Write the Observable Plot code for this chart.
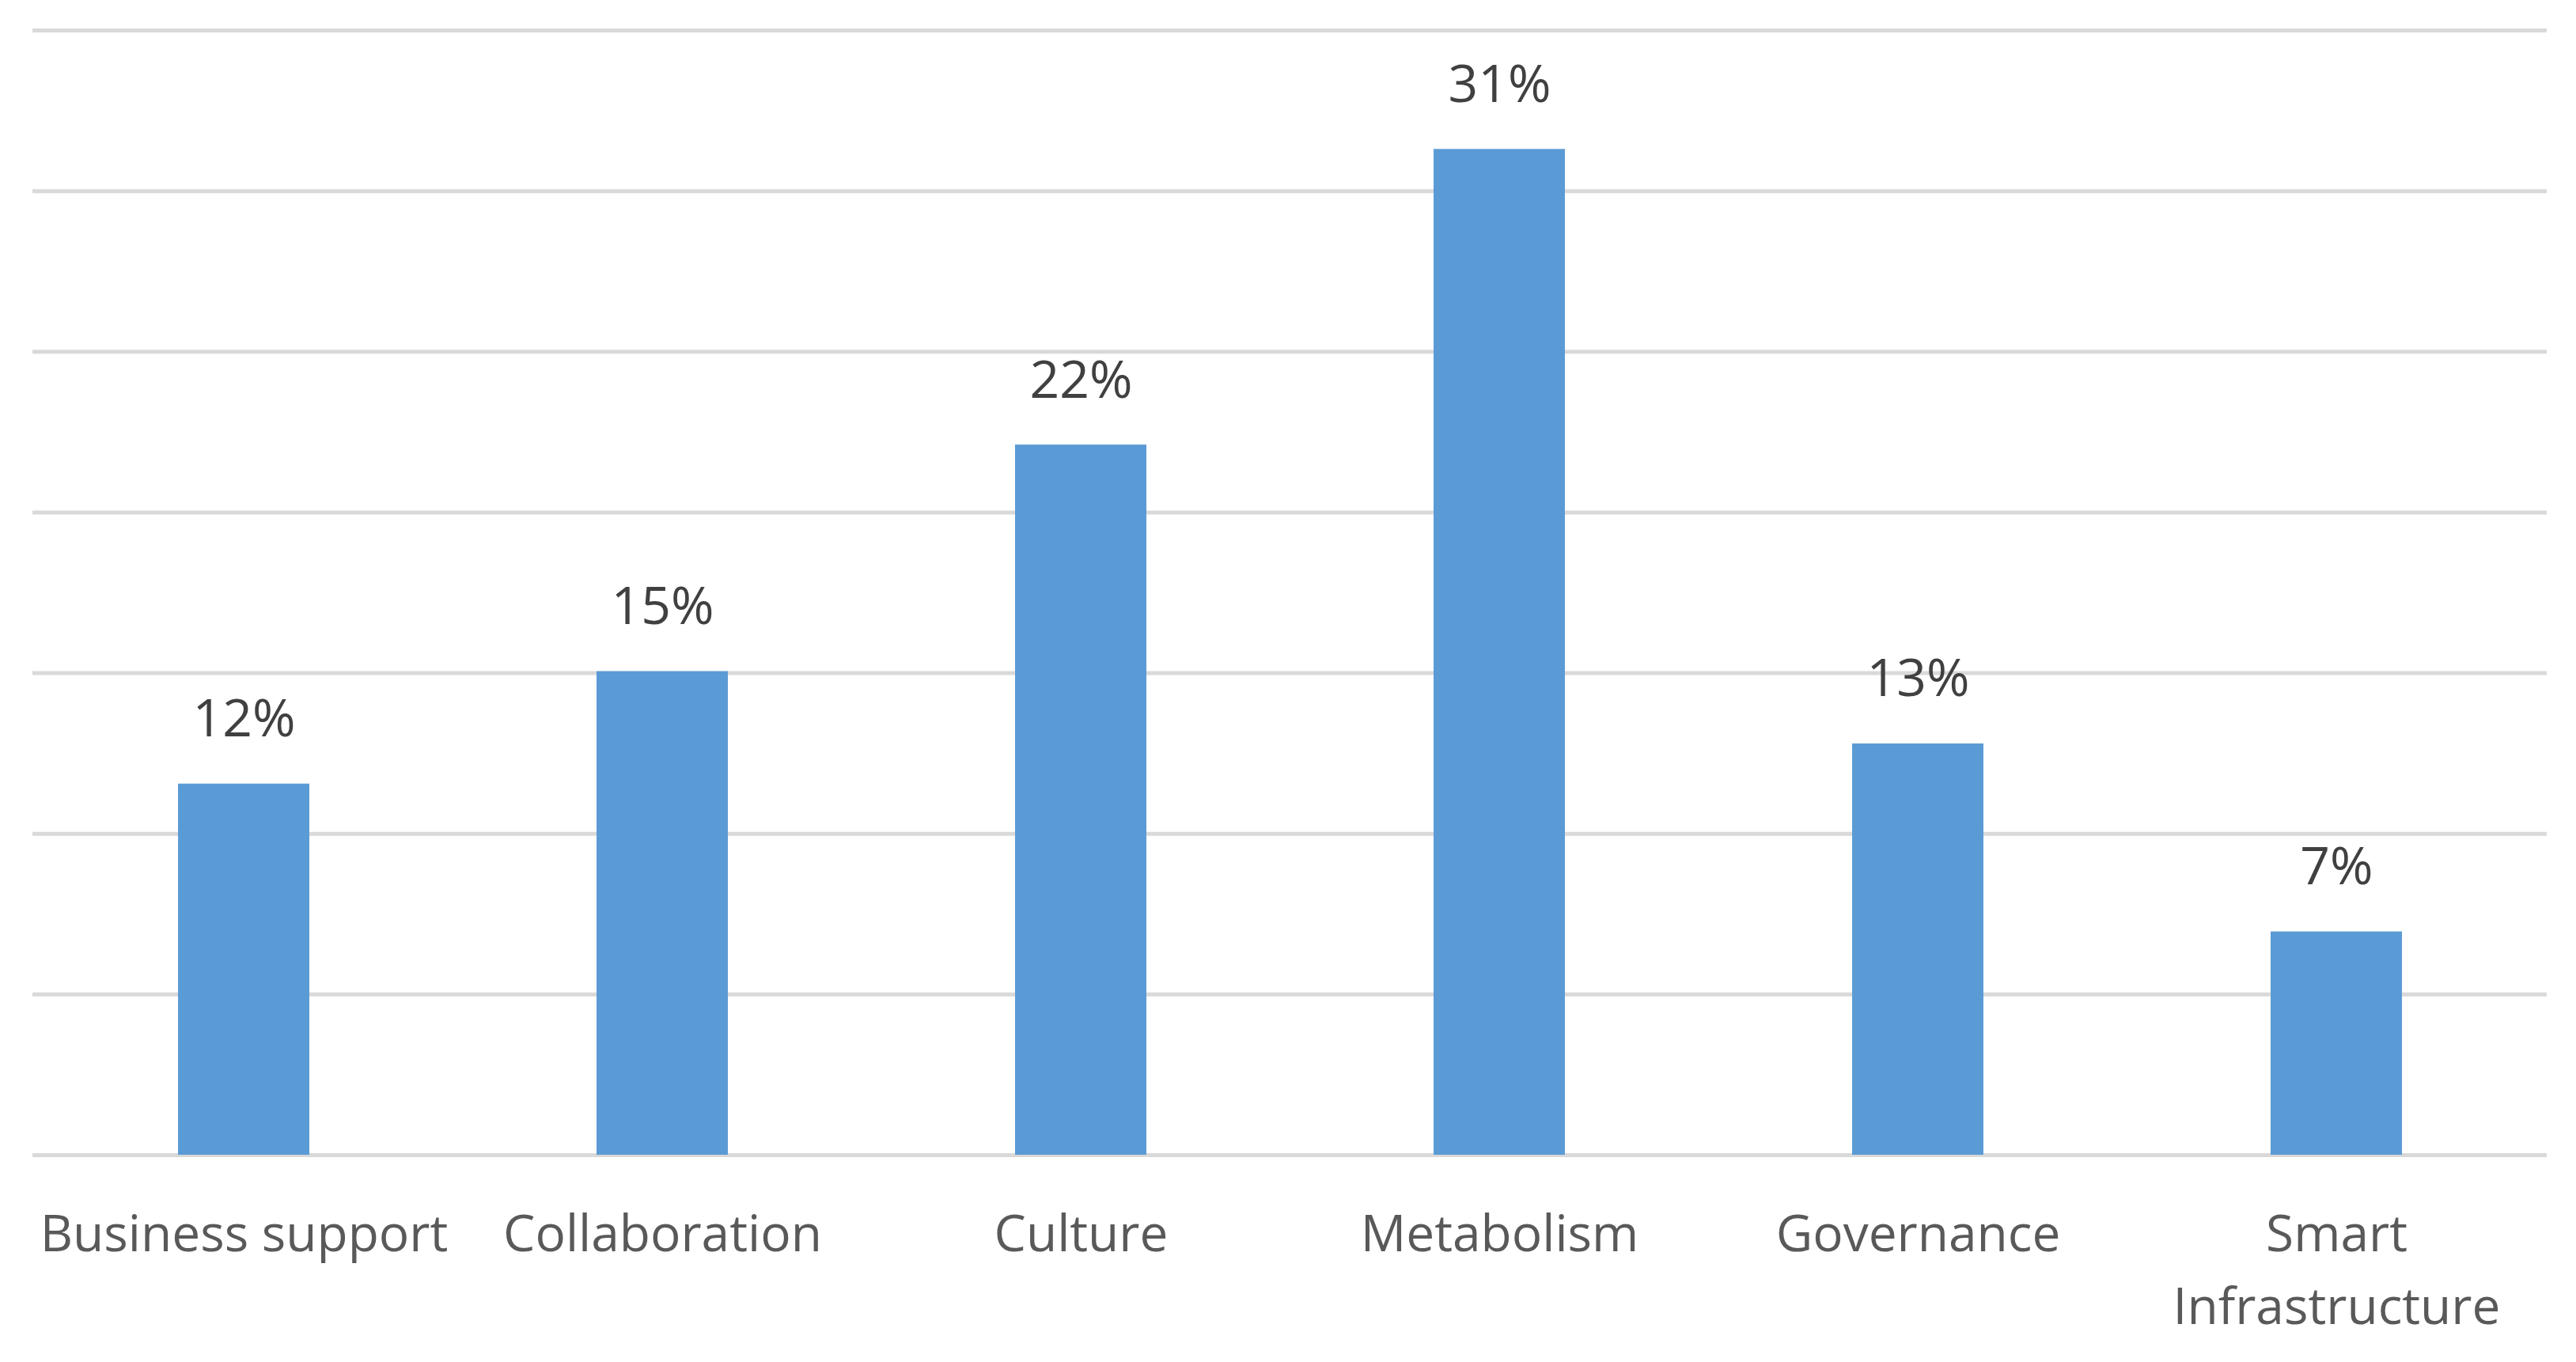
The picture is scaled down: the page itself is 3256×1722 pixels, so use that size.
<!DOCTYPE html>
<html>
<head>
<meta charset="utf-8">
<script src="https://cdn.jsdelivr.net/npm/d3@7"></script>
<script src="https://cdn.jsdelivr.net/npm/@observablehq/plot@0.6"></script>
<style>
  html, body { margin: 0; padding: 0; background: #ffffff; overflow: hidden; }
  #chart svg { display: block; }
</style>
</head>
<body>
<div id="chart"></div>
<script>
const categories = ["Business support", "Collaboration", "Culture", "Metabolism", "Governance", "Smart Infrastructure"];
const categoryLabels = ["Business support", "Collaboration", "Culture", "Metabolism", "Governance", "Smart\nInfrastructure"];
const values = [11.55, 15.05, 22.1, 31.3, 12.8, 6.95];
const valueLabels = ["12%", "15%", "22%", "31%", "13%", "7%"];
const gridTicks = [0, 5, 10, 15, 20, 25, 30, 35];

const data = categories.map((c, i) => ({
  category: c,
  label: categoryLabels[i],
  value: values[i],
  valueLabel: valueLabels[i]
}));

const font = "'Open Sans', 'Noto Sans', sans-serif";

const chart = Plot.plot({
  width: 3256,
  height: 1722,
  marginLeft: 41,
  marginRight: 37,
  marginTop: 38,
  marginBottom: 262,
  style: { fontFamily: font, background: "#ffffff" },
  x: { domain: categories, paddingInner: 0.687, paddingOuter: 0.3435, axis: null },
  y: { domain: [0, 35], axis: null },
  marks: [
    Plot.ruleY(gridTicks, { stroke: "#d9d9d9", strokeWidth: 5 }),
    Plot.barY(data, { x: "category", y: "value", fill: "#5b9bd5" }),
    Plot.text(data, {
      x: "category", y: "value", text: "valueLabel",
      dy: -60, lineAnchor: "bottom",
      fontSize: 66, fill: "#404040", fontFamily: font
    }),
    Plot.text(data, {
      x: "category", y: () => 0, text: "label",
      dy: 57, lineAnchor: "top", lineHeight: 1.43,
      fontSize: 64, fill: "#595959", fontFamily: font
    })
  ]
});

document.getElementById("chart").appendChild(chart);
</script>
</body>
</html>
